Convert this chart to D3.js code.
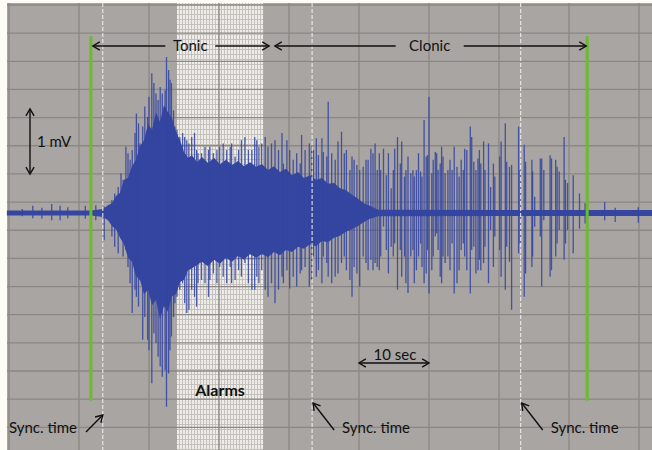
<!DOCTYPE html>
<html>
<head>
<meta charset="utf-8">
<script src="https://cdn.jsdelivr.net/npm/d3@7"></script>
<style>
  body { margin: 0; background: #fdfdf5; }
  text { font-family: Lato, "Open Sans", sans-serif; fill: #111; }
</style>
</head>
<body>
<script>
// time in seconds, amplitude in mV
var envT  = [-0.3, 11.71, 13.43, 14.14, 14.71, 15.29, 15.86, 16.43, 17.0, 17.57, 18.14, 18.71, 19.29, 19.86, 20.43, 21.0, 21.57, 22.14, 22.71, 23.29,
  23.86, 24.43, 25.0, 25.57, 26.14, 26.86, 27.57, 28.43, 29.29, 30.14, 31.0, 31.86, 32.71, 33.57, 34.43, 35.29, 36.14, 37.0, 37.86, 38.71,
  39.57, 40.43, 41.29, 42.14, 43.0, 43.86, 44.71, 45.57, 46.43, 47.29, 48.14, 49.0, 49.86, 50.71, 51.57, 52.71, 82.57, 91.86]
var envHi = [0.04, 0.04, 0.06, 0.12, 0.15, 0.26, 0.31, 0.51, 0.54, 0.72, 0.82, 1.03, 1.12, 1.37, 1.28, 1.55, 1.40, 1.66, 1.55, 1.46,
  1.25, 1.12, 0.94, 0.85, 0.89, 0.78, 0.86, 0.77, 0.85, 0.75, 0.82, 0.74, 0.80, 0.72, 0.78, 0.71, 0.75, 0.66, 0.72, 0.63,
  0.68, 0.58, 0.63, 0.54, 0.58, 0.51, 0.54, 0.45, 0.46, 0.38, 0.35, 0.28, 0.22, 0.15, 0.11, 0.05, 0.045, 0.045]
var envLo = [-0.04, -0.04, -0.06, -0.11, -0.20, -0.25, -0.38, -0.48, -0.69, -0.75, -0.97, -1.03, -1.25, -1.18, -1.42, -1.34, -1.63, -1.43, -1.52, -1.28,
  -1.25, -1.06, -1.03, -0.88, -0.85, -0.80, -0.75, -0.82, -0.72, -0.78, -0.69, -0.75, -0.66, -0.72, -0.63, -0.69, -0.63, -0.68, -0.60, -0.65,
  -0.57, -0.60, -0.52, -0.55, -0.48, -0.51, -0.43, -0.45, -0.38, -0.35, -0.29, -0.25, -0.20, -0.14, -0.09, -0.05, -0.045, -0.045]

var spikeT = [1.9, 3.4, 4.7, 6.1, 7.3, 8.4, 10.9, 12.4, 13.6, 14.7, 15.1, 15.6, 16.0, 16.3, 16.7, 17.0, 17.3, 17.6, 18.0, 18.2,
  18.5, 18.7, 19.1, 19.4, 19.8, 20.0, 20.4, 20.7, 21.0, 21.3, 21.6, 21.9, 22.3, 22.5, 22.8, 23.0, 23.2, 23.5, 23.7, 24.0,
  24.4, 24.8, 25.1, 25.4, 25.7, 26.1, 26.5, 26.8, 27.0, 27.5, 28.0, 28.5, 28.7, 29.2, 29.7, 30.1, 30.6, 31.1, 31.6, 31.8,
  32.3, 32.8, 33.2, 33.7, 34.2, 34.7, 35.1, 35.4, 35.7, 36.1, 36.6, 37.0, 37.5, 38.0, 38.5, 39.0, 39.2, 39.7, 40.1, 40.6,
  41.1, 41.6, 41.8, 42.3, 42.9, 43.2, 43.5, 43.9, 44.2, 44.7, 44.9, 45.4, 45.6, 46.1, 46.6, 47.0, 47.5, 47.9, 48.2, 48.7,
  49.0, 49.3, 49.7, 50.1, 50.6, 51.0, 51.3, 51.7, 52.0, 52.3, 52.6, 52.9, 53.1, 53.5, 53.9, 54.2, 54.6, 54.9, 55.1, 55.5,
  55.9, 56.1, 56.5, 56.7, 57.0, 57.4, 57.7, 57.9, 58.2, 58.5, 58.8, 59.0, 59.3, 59.6, 59.8, 60.0, 60.4, 60.6, 60.9, 61.1,
  61.3, 61.6, 61.8, 62.0, 62.3, 62.7, 63.0, 63.3, 63.6, 64.0, 64.3, 64.6, 64.9, 65.1, 65.4, 65.9, 66.1, 66.4, 66.7, 67.0,
  67.2, 67.4, 67.8, 68.0, 68.5, 68.8, 69.2, 69.4, 70.1, 70.3, 70.9, 71.1, 71.5, 71.8, 72.8, 73.0, 73.6, 73.8, 74.7, 74.8,
  75.1, 75.9, 76.1, 76.4, 77.3, 77.5, 78.1, 78.3, 78.6, 79.3, 79.5, 79.8, 80.6, 81.5, 82.3, 85.1, 86.6, 89.9]
var spikeHi = [0.06, 0.11, 0.08, 0.14, 0.11, 0.09, 0.11, 0.12, 0.10, 0.20, 0.30, 0.40, 0.61, 0.51, 1.02, 0.92, 0.82, 0.97, 1.23, 1.53,
  1.38, 1.07, 1.33, 1.64, 1.48, 1.79, 2.15, 2.00, 1.84, 1.74, 1.94, 1.84, 1.89, 2.40, 2.20, 2.05, 2.00, 1.58, 1.33, 1.28,
  1.17, 1.23, 1.17, 1.12, 1.07, 1.17, 1.23, 0.97, 0.92, 0.92, 1.02, 0.97, 1.02, 0.92, 0.97, 1.02, 1.07, 0.97, 1.02, 1.07,
  0.87, 0.97, 1.12, 1.17, 0.97, 0.97, 1.17, 1.12, 1.02, 1.07, 1.17, 1.02, 1.07, 1.12, 0.97, 1.23, 0.76, 1.12, 0.97, 0.82,
  0.92, 0.76, 1.20, 0.97, 1.07, 1.02, 0.97, 1.15, 0.89, 1.15, 0.94, 0.87, 1.71, 0.92, 0.82, 1.10, 1.25, 0.92, 0.97, 0.66,
  0.87, 0.82, 0.74, 0.66, 0.71, 0.82, 0.82, 0.99, 0.92, 1.07, 0.66, 0.92, 0.66, 0.99, 0.58, 0.92, 0.38, 0.66, 0.99, 1.17,
  0.76, 1.10, 0.56, 0.66, 0.87, 0.61, 0.66, 0.56, 0.66, 0.92, 0.64, 0.56, 1.43, 0.87, 0.89, 1.79, 0.61, 0.82, 0.94, 0.92,
  0.66, 0.76, 1.02, 0.87, 0.61, 0.66, 0.82, 0.66, 1.02, 0.71, 0.56, 0.82, 0.66, 0.99, 0.97, 1.33, 1.17, 0.79, 0.66, 0.84,
  0.97, 0.76, 1.10, 0.66, 1.07, 0.40, 0.76, 0.56, 0.87, 1.10, 1.38, 0.79, 0.71, 0.74, 1.33, 0.66, 1.05, 0.79, 0.82, 0.64,
  0.25, 0.84, 0.84, 0.66, 0.89, 0.84, 0.82, 0.71, 0.64, 1.17, 0.51, 0.46, 0.58, 0.30, 0.15, 0.17, 0.08, 0.09]
var spikeLo = [-0.05, -0.08, -0.09, -0.11, -0.11, -0.08, -0.09, -0.11, -0.42, -0.36, -0.52, -0.62, -0.36, -0.67, -0.57, -0.83, -1.08, -1.54, -1.18, -1.29,
  -1.44, -1.03, -1.95, -1.60, -1.95, -2.11, -2.62, -1.85, -2.00, -2.21, -2.36, -2.52, -2.42, -2.98, -2.47, -2.11, -1.90, -1.60, -1.39, -1.29,
  -1.18, -1.08, -1.39, -1.54, -1.49, -1.18, -1.29, -1.44, -1.08, -1.03, -1.08, -1.29, -1.03, -0.93, -1.08, -0.83, -0.98, -1.08, -0.83, -1.08,
  -1.03, -0.88, -0.98, -0.77, -1.08, -1.18, -1.18, -0.98, -1.08, -0.88, -1.18, -1.29, -1.08, -1.39, -1.18, -0.98, -1.08, -0.88, -1.16, -0.98,
  -1.13, -0.93, -0.88, -0.83, -1.13, -1.03, -0.67, -0.98, -0.88, -1.08, -0.67, -0.77, -0.98, -1.08, -0.98, -0.93, -0.77, -0.67, -0.88, -1.03,
  -1.29, -0.83, -0.93, -1.13, -0.67, -0.77, -0.88, -0.72, -0.88, -0.77, -0.83, -0.88, -0.67, -0.21, -0.57, -0.93, -0.52, -0.67, -0.47, -1.18,
  -0.57, -0.98, -0.67, -1.08, -1.23, -0.67, -0.57, -1.08, -0.88, -0.67, -0.47, -0.83, -1.08, -0.93, -0.57, -1.24, -0.88, -0.67, -0.36, -0.31,
  -0.57, -0.98, -1.08, -0.67, -0.77, -0.67, -0.88, -0.47, -1.24, -1.08, -0.88, -0.57, -0.47, -0.67, -0.88, -1.24, -0.57, -0.52, -0.93, -0.88,
  -0.72, -0.88, -0.77, -0.52, -1.08, -0.26, -0.83, -0.36, -0.57, -0.98, -1.18, -0.52, -0.75, -1.49, -0.62, -0.47, -1.29, -0.93, -0.83, -0.67,
  -0.21, -0.36, -1.13, -0.11, -0.98, -0.88, -0.67, -0.47, -0.26, -0.72, -0.47, -0.26, -0.62, -0.24, -0.16, -0.11, -0.14, -0.15]

var phaseNames = ["Tonic", "Clonic"]
var phaseStart = [11.7, 37.7]
var phaseEnd = [37.3, 82.6]
var phaseLabelT = [25.9, 60.1]
var syncT = [13.4, 43.3, 73.1]
var alarmStart = 24.0, alarmEnd = 36.3

var W = 652, H = 450

var x = d3.scaleLinear().domain([0, 90]).range([9, 639])
var y = d3.scaleLinear().domain([0, 1]).range([213, 148])
var gridRow = d3.scaleLinear().domain([0, 15]).range([5, 427.3])

var svg = d3.select("body").append("svg")
    .attr("width", W)
    .attr("height", H)

var defs = svg.append("defs")
var pat = defs.append("pattern")
    .attr("id", "alarmPat")
    .attr("patternUnits", "userSpaceOnUse")
    .attr("width", 3).attr("height", 5)
pat.append("rect").attr("width", 3).attr("height", 5).attr("fill", "#c4c1bd")
pat.append("rect").attr("width", 2).attr("height", 4).attr("fill", "#eeece8")

// background
svg.append("rect")
    .attr("x", 7).attr("y", 3)
    .attr("width", W - 7).attr("height", H - 3)
    .attr("fill", "#a9a5a2")

// alarm block
svg.append("rect")
    .attr("x", x(alarmStart)).attr("y", 3)
    .attr("width", x(alarmEnd) - x(alarmStart)).attr("height", H - 3)
    .attr("fill", "url(#alarmPat)")

// grid
svg.append("g").selectAll("line")
    .data(d3.range(0, 91, 10))
    .enter().append("line")
    .attr("x1", function(d) { return x(d) }).attr("x2", function(d) { return x(d) })
    .attr("y1", 3).attr("y2", H)
    .attr("stroke", "#8b8784").attr("stroke-width", 1.3)

svg.append("g").selectAll("line")
    .data(d3.range(16))
    .enter().append("line")
    .attr("x1", 7).attr("x2", W)
    .attr("y1", function(d) { return gridRow(d) }).attr("y2", function(d) { return gridRow(d) })
    .attr("stroke", "#8b8784").attr("stroke-width", 1.3)

// signal: dense core
var env = envT.map(function(t, i) { return {t: t, hi: envHi[i], lo: envLo[i]} })
var area = d3.area()
    .x(function(d) { return x(d.t) })
    .y0(function(d) { return y(d.lo) })
    .y1(function(d) { return y(d.hi) })

svg.append("path")
    .datum(env)
    .attr("d", area)
    .attr("fill", "#3446a0")

// signal: spikes
var spikes = spikeT.map(function(t, i) { return {t: t, hi: spikeHi[i], lo: spikeLo[i]} })
svg.append("g").selectAll("line")
    .data(spikes)
    .enter().append("line")
    .attr("x1", function(d) { return x(d.t) }).attr("x2", function(d) { return x(d.t) })
    .attr("y1", function(d) { return y(d.hi) }).attr("y2", function(d) { return y(d.lo) })
    .attr("stroke", "#3446a0")
    .attr("stroke-opacity", 0.88)
    .attr("stroke-width", 1.3)

// sync time dashed lines
svg.append("g").selectAll("line")
    .data(syncT)
    .enter().append("line")
    .attr("x1", function(d) { return x(d) }).attr("x2", function(d) { return x(d) })
    .attr("y1", 3).attr("y2", H)
    .attr("stroke", "#f2f2f0").attr("stroke-width", 1)
    .attr("stroke-dasharray", "4,2")

// green phase boundaries
svg.append("g").selectAll("line")
    .data([phaseStart[0], phaseEnd[1]])
    .enter().append("line")
    .attr("x1", function(d) { return x(d) }).attr("x2", function(d) { return x(d) })
    .attr("y1", y(2.72)).attr("y2", y(-2.89))
    .attr("stroke", "#6cbb2e").attr("stroke-width", 3)

// helpers for annotation arrows
function head(g, px, py, ang) {
  var a1 = ang + Math.PI * 0.83, a2 = ang - Math.PI * 0.83, L = 8
  g.append("path")
    .attr("d", "M" + (px + L * Math.cos(a1)) + "," + (py + L * Math.sin(a1)) +
      "L" + px + "," + py +
      "L" + (px + L * Math.cos(a2)) + "," + (py + L * Math.sin(a2)))
    .attr("fill", "none").attr("stroke", "#111").attr("stroke-width", 1.4)
}
function seg(g, x1, y1, x2, y2) {
  g.append("line")
    .attr("x1", x1).attr("y1", y1).attr("x2", x2).attr("y2", y2)
    .attr("stroke", "#111").attr("stroke-width", 1.4)
}

var ann = svg.append("g")
var gapHalf = [25, 34]
var arrowY = 46
phaseNames.forEach(function(name, i) {
  var xs = x(phaseStart[i]) + 2, xe = x(phaseEnd[i]) - 1, xc = x(phaseLabelT[i])
  seg(ann, xs, arrowY, xc - gapHalf[i], arrowY)
  seg(ann, xc + gapHalf[i], arrowY, xe, arrowY)
  head(ann, xs, arrowY, Math.PI)
  head(ann, xe, arrowY, 0)
  ann.append("text")
    .attr("x", xc).attr("y", arrowY + 5)
    .attr("text-anchor", "middle")
    .style("font-size", "15px")
    .text(name)
})

// 1 mV scale bar
var mvX = 30
seg(ann, mvX, y(1.6), mvX, y(0.6))
head(ann, mvX, y(1.6), -Math.PI / 2)
head(ann, mvX, y(0.6), Math.PI / 2)
ann.append("text").attr("x", 37).attr("y", 147).style("font-size", "15px").text("1 mV")

// 10 sec scale bar
var secY = 363
seg(ann, x(50), secY, x(60), secY)
head(ann, x(50), secY, Math.PI)
head(ann, x(60), secY, 0)
ann.append("text").attr("x", (x(50) + x(60)) / 2 + 1).attr("y", secY - 3)
    .attr("text-anchor", "middle").style("font-size", "15px").text("10 sec")

// Alarms label
ann.append("text")
    .attr("x", (x(alarmStart) + x(alarmEnd)) / 2).attr("y", 396)
    .attr("text-anchor", "middle")
    .style("font-size", "16px").style("font-weight", "bold")
    .text("Alarms")

// Sync. time labels
var syncY = 433
seg(ann, 86, 432, x(syncT[0]), 415)
head(ann, x(syncT[0]), 415, Math.atan2(415 - 432, x(syncT[0]) - 86))
ann.append("text").attr("x", 9).attr("y", syncY).style("font-size", "15px").text("Sync. time")

;[1, 2].forEach(function(i) {
  var hx = x(syncT[i]) + 1, hy = 403, tx = hx + 21, ty = 430
  seg(ann, tx, ty, hx, hy)
  head(ann, hx, hy, Math.atan2(hy - ty, hx - tx))
  ann.append("text").attr("x", hx + 29).attr("y", syncY).style("font-size", "15px").text("Sync. time")
})
</script>
</body>
</html>
